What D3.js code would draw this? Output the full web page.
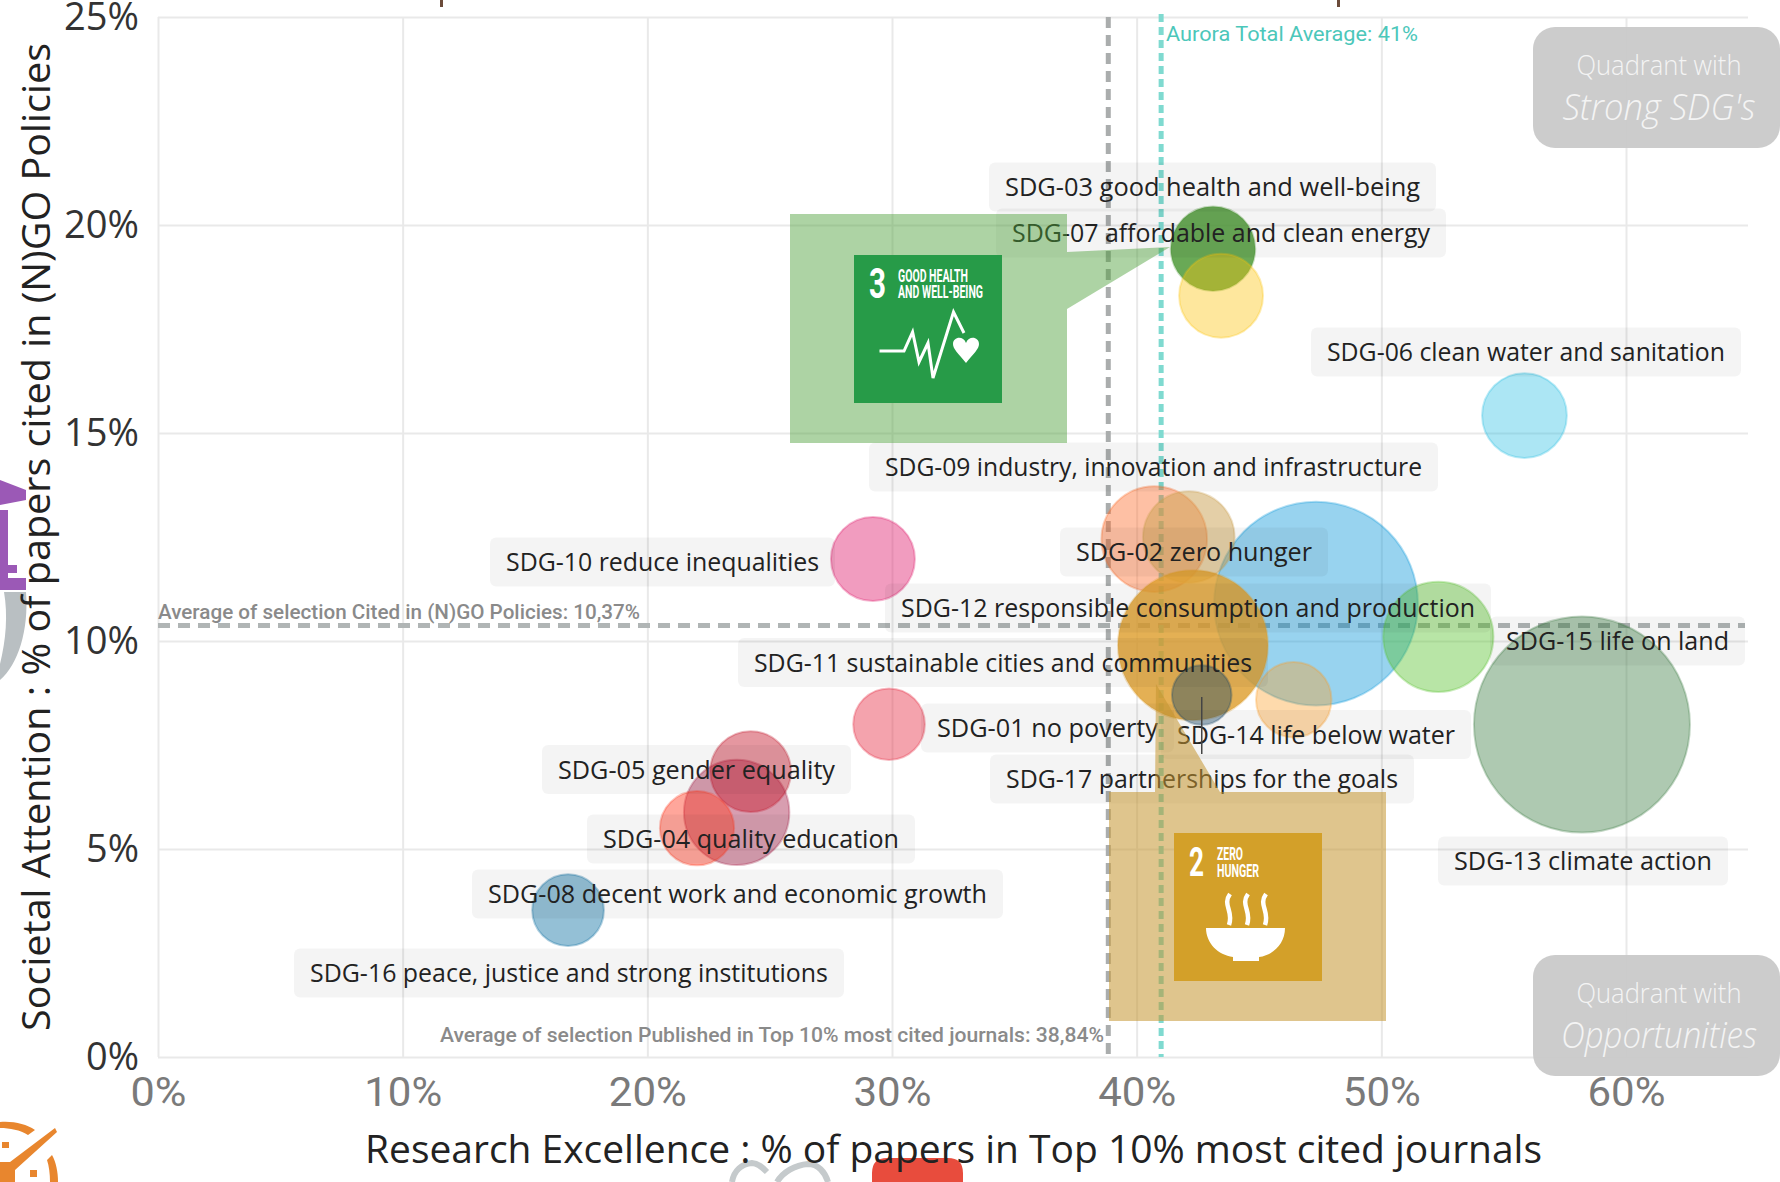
<!DOCTYPE html>
<html><head><meta charset="utf-8">
<script src="https://cdn.jsdelivr.net/npm/d3@7/dist/d3.min.js"></script>
<style>html,body{margin:0;padding:0;background:#fff;overflow:hidden}svg{display:block}</style>
</head><body><svg id="c" width="1780" height="1182"></svg>
<script>
const sdgNames = ["SDG-01 no poverty","SDG-02 zero hunger","SDG-03 good health and well-being","SDG-04 quality education","SDG-05 gender equality","SDG-06 clean water and sanitation","SDG-07 affordable and clean energy","SDG-08 decent work and economic growth","SDG-09 industry, innovation and infrastructure","SDG-10 reduce inequalities","SDG-11 sustainable cities and communities","SDG-12 responsible consumption and production","SDG-13 climate action","SDG-14 life below water","SDG-15 life on land","SDG-16 peace, justice and strong institutions","SDG-17 partnerships for the goals"];
const excellence = [29.88,42.13,43.12,24.22,22.03,55.85,43.45,23.65,40.72,29.22,46.42,42.3,58.2,47.33,52.33,16.76,42.66];
const attention  = [8.0,12.5,19.43,6.86,5.5,15.42,18.3,5.88,12.45,11.97,8.59,9.9,7.99,10.9,10.1,3.53,8.7];
const paperSize  = [11,18,15.3,14,11.8,15.4,15.1,23.8,23.9,15.1,12.2,48.2,100,89,26,11,7.6];
const sdgColors  = ["#E5243B","#C9A050","#4F9A38","#C5192D","#FF3A21","#26BDE2","#FCC30B","#A21942","#FD6925","#DD1367","#FD9D24","#DE9F2E","#3F7E44","#0A97D9","#56C02B","#00689D","#19486A"];
const sdgAlpha   = [.42,.5,.85,.45,.45,.38,.4,.42,.42,.42,.38,.82,.42,.42,.42,.42,.42];
const drawOrder  = [13,7,8,1,11,14,12,10,16,0,9,15,3,4,5,2,6];
const xTicks = [0,10,20,30,40,50,60];
const yTicks = [0,5,10,15,20,25];
const avgExcellence = 38.84, avgAttention = 10.37, auroraAvg = 41;
const titleX = "Research Excellence : % of papers in Top 10% most cited journals";
const titleY = "Societal Attention : % of papers cited in (N)GO Policies";

const svg = d3.select("#c");
const x = d3.scaleLinear().domain([0,60]).range([158,1626]);
const y = d3.scaleLinear().domain([0,25]).range([1057,17]);
const r = d3.scaleSqrt().domain([0,100]).range([0,108]);
const SANS = "'Open Sans','Noto Sans',sans-serif";
const COND = "'Roboto','DejaVu Sans',sans-serif";
const XEND = 1748;

function fit(sel,len){ sel.attr("textLength",len).attr("lengthAdjust","spacingAndGlyphs"); return sel; }

// cropped neighbour graphics at the edges
const edge = svg.append("g");
const PURPLE="#9B59B6", ORANGE="#E8862E";
edge.append("path").attr("d","M0 480L26 490V500L0 505Z").attr("fill",PURPLE);
edge.append("path").attr("d","M0 510H8V565H17V573H8V578H26V590H0Z").attr("fill",PURPLE);
edge.append("path").attr("d","M0 592H26C29 630 18 665 0 680V664C6 640 8 615 4 592Z").attr("fill","#b9bfc2");
edge.append("path").attr("d","M0 1122C14 1121 26 1124 35 1130L28 1135C20 1130 10 1128 0 1128Z").attr("fill",ORANGE);
edge.append("path").attr("d","M0 1162H10L55 1128L57 1132L15 1170V1182H0Z").attr("fill",ORANGE);
edge.append("path").attr("d","M52 1155C56 1162 58 1172 58 1182H50C50 1174 49 1166 47 1160Z").attr("fill",ORANGE);
edge.append("rect").attr("x",2).attr("y",1142).attr("width",7).attr("height",6).attr("fill",ORANGE);
edge.append("rect").attr("x",30).attr("y",1170).attr("width",7).attr("height",7).attr("fill",ORANGE);
edge.append("path").attr("d","M732 1182C734 1170 742 1164 752 1163C758 1163 763 1168 767 1172M777 1182C783 1172 795 1165 808 1164C818 1164 825 1172 828 1182").attr("fill","none").attr("stroke","#c5cacc").attr("stroke-width",6);
edge.append("path").attr("d","M872 1182V1173Q872 1158 887 1158H948Q963 1158 963 1173V1182Z").attr("fill","#E84C3D");
edge.append("rect").attr("x",440).attr("y",0).attr("width",3).attr("height",7).attr("fill","#6b4b3a");
edge.append("rect").attr("x",1337).attr("y",0).attr("width",3).attr("height",7).attr("fill","#6b4b3a");

// grid
svg.append("g").attr("transform","translate(0,1057)")
  .call(d3.axisBottom(x).tickValues(xTicks).tickSize(-1040).tickFormat(d=>d+"%"))
  .call(g=>{g.select(".domain").remove();
    g.selectAll("line").attr("stroke","#e9e9e9").attr("stroke-width",2);
    g.selectAll("text").attr("y",36).attr("dy","0.32em").attr("fill","#7a7a7a").attr("font-family",COND).attr("font-size",40).attr("font-weight",400).each(function(){fit(d3.select(this),this.textContent.length==2?56:78)});});
svg.append("g").attr("transform","translate(158,0)")
  .call(d3.axisLeft(y).tickValues(yTicks).tickSize(-(XEND-158)).tickFormat(d=>d+"%"))
  .call(g=>{g.select(".domain").remove();
    g.selectAll("line").attr("stroke","#e9e9e9").attr("stroke-width",2);
    g.selectAll("text").attr("x",-19).attr("fill","#333").attr("font-family",SANS).attr("font-size",38).attr("font-weight",400).each(function(){fit(d3.select(this),this.textContent.length==2?53:75)});});

// averages
svg.append("line").attr("x1",x(0)).attr("x2",1745).attr("y1",y(avgAttention)).attr("y2",y(avgAttention)).attr("stroke","#b0b5b5").attr("stroke-width",5).attr("stroke-dasharray","12 8");
svg.append("line").attr("x1",x(avgExcellence)).attr("x2",x(avgExcellence)).attr("y1",17).attr("y2",1060).attr("stroke","#aaadad").attr("stroke-width",5).attr("stroke-dasharray","11 7");
svg.append("line").attr("x1",x(auroraAvg)).attr("x2",x(auroraAvg)).attr("y1",14).attr("y2",1057).attr("stroke","#7fdad0").attr("stroke-width",5).attr("stroke-dasharray","8 5");

// bubbles
const bubbleData = drawOrder.map(i=>({i,x:excellence[i],y:attention[i],s:paperSize[i]}));
svg.append("g").selectAll("circle").data(bubbleData).join("circle")
  .attr("cx",d=>x(d.x)).attr("cy",d=>y(d.y)).attr("r",d=>r(d.s))
  .attr("fill",d=>sdgColors[d.i]).attr("fill-opacity",d=>sdgAlpha[d.i])
  .attr("stroke",d=>sdgColors[d.i]).attr("stroke-opacity",.3).attr("stroke-width",2);

// labels : left edge of box, vertical centre, box width in px
const labelBoxes = {
 "SDG-03":[989,187,447],"SDG-07":[996,233,450],"SDG-06":[1311,352,430],"SDG-09":[869,467,569],
 "SDG-10":[490,562,345],"SDG-02":[1060,552,268],"SDG-12":[885,608,606],"SDG-15":[1490,641,255],
 "SDG-11":[738,662.5,530],"SDG-01":[921,728,253],"SDG-14":[1161,734.5,310],"SDG-17":[990,779,424],
 "SDG-05":[542,769.5,309],"SDG-04":[587,839,328],"SDG-08":[472,894,531],"SDG-13":[1438,861,290],"SDG-16":[294,973,550]};
const lab = svg.append("g");
sdgNames.forEach(n=>{
  const b = labelBoxes[n.slice(0,6)];
  lab.append("rect").attr("x",b[0]).attr("y",b[1]-24.5).attr("width",b[2]).attr("height",49).attr("rx",6).attr("fill","#000").attr("fill-opacity",.045);
  fit(lab.append("text").attr("x",b[0]+16).attr("y",b[1]+9).attr("font-family",SANS).attr("font-size",26).attr("fill","#222").text(n),b[2]-32);
});

// small captions
fit(svg.append("text").attr("x",158).attr("y",619).attr("font-family",COND).attr("font-size",20).attr("fill","#8a8a8a").attr("font-weight",500).text("Average of selection Cited in (N)GO Policies: 10,37%"),482);
fit(svg.append("text").attr("x",440).attr("y",1042).attr("font-family",COND).attr("font-size",20).attr("fill","#8a8a8a").attr("font-weight",500).text("Average of selection Published in Top 10% most cited journals: 38,84%"),664);
fit(svg.append("text").attr("x",1166).attr("y",41).attr("font-family",COND).attr("font-size",21).attr("fill","#4cc7ba").attr("font-weight",400).text("Aurora Total Average: 41%"),252);

// axis titles
fit(svg.append("text").attr("x",365).attr("y",1163).attr("font-family",SANS).attr("font-size",39).attr("fill","#222").text(titleX),1177);
fit(svg.append("text").attr("transform","translate(50,1031) rotate(-90)").attr("font-family",SANS).attr("font-size",39).attr("fill","#222").text(titleY),988);

// quadrant boxes
[[27,"Strong SDG's",193],[955,"Opportunities",196]].forEach(([t,s,w])=>{
  svg.append("rect").attr("x",1533).attr("y",t).attr("width",247).attr("height",121).attr("rx",22).attr("fill","#c9c9c9").attr("fill-opacity",.95);
  fit(svg.append("text").attr("x",1659).attr("y",t+48).attr("text-anchor","middle").attr("font-family","'Open Sans',sans-serif").attr("font-weight",300).attr("font-size",28).attr("fill","#f4f4f4").text("Quadrant with"),165);
  fit(svg.append("text").attr("x",1659).attr("y",t+93).attr("text-anchor","middle").attr("font-family","'Open Sans',sans-serif").attr("font-weight",300).attr("font-style","italic").attr("font-size",36).attr("fill","#f4f4f4").text(s),w);
});

// callouts
svg.append("path").attr("d","M790 214H1067V252L1170 247L1067 309V443H790Z").attr("fill","#4C9F38").attr("fill-opacity",.46);
svg.append("path").attr("d","M1109 792H1155L1156 684L1220 792H1386V1021H1109Z").attr("fill","#C4952F").attr("fill-opacity",.55);

// SDG 3 tile
const t3 = svg.append("g").attr("transform","translate(854,255)");
t3.append("rect").attr("width",148).attr("height",148).attr("fill","#279B48");
fit(t3.append("text").attr("x",15).attr("y",43).attr("font-family",COND).attr("font-weight",700).attr("font-size",42).attr("fill","#fff").text("3"),17);
fit(t3.append("text").attr("x",44).attr("y",27).attr("font-family",COND).attr("font-weight",700).attr("font-size",19).attr("fill","#fff").text("GOOD HEALTH"),70);
fit(t3.append("text").attr("x",44).attr("y",43).attr("font-family",COND).attr("font-weight",700).attr("font-size",18).attr("fill","#fff").text("AND WELL-BEING"),85);
t3.append("path").attr("d","M25.5 96H50L58.6 77L65 107L74 88L79 123L99.5 57L110 78").attr("fill","none").attr("stroke","#fff").attr("stroke-width",3);
t3.append("path").attr("d","M112 108C104 98 99 94 99 89C99 82 109 80 112 88C115 80 125 82 125 89C125 94 120 98 112 108Z").attr("fill","#fff");

// SDG 2 tile
const t2 = svg.append("g").attr("transform","translate(1174,833)");
t2.append("rect").attr("width",148).attr("height",148).attr("fill","#D3A029");
fit(t2.append("text").attr("x",15).attr("y",43).attr("font-family",COND).attr("font-weight",700).attr("font-size",41).attr("fill","#fff").text("2"),15);
fit(t2.append("text").attr("x",43).attr("y",26.5).attr("font-family",COND).attr("font-weight",700).attr("font-size",18).attr("fill","#fff").text("ZERO"),26);
fit(t2.append("text").attr("x",43).attr("y",43.5).attr("font-family",COND).attr("font-weight",700).attr("font-size",18).attr("fill","#fff").text("HUNGER"),42);
["M56 61C48 72 60 78 55 92","M74 61C66 72 78 78 73 92","M92 61C84 72 96 78 91 92"].forEach(d=>t2.append("path").attr("d",d).attr("fill","none").attr("stroke","#fff").attr("stroke-width",4.5));
t2.append("path").attr("d","M32 95H111C111 110 100 122 85 124V128H59V124C44 122 32 110 32 95Z").attr("fill","#fff");

// thin leader line
svg.append("line").attr("x1",x(excellence[16])).attr("x2",x(excellence[16])).attr("y1",697).attr("y2",754).attr("stroke","#444").attr("stroke-width",1.5);
</script></body></html>
